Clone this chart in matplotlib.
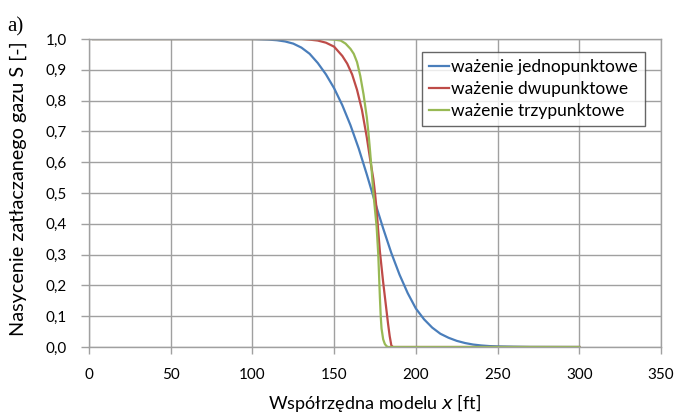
import matplotlib
matplotlib.use("Agg")
import matplotlib.pyplot as plt
from matplotlib.ticker import FuncFormatter, MultipleLocator

# ---- data ----
x_jedno = [2.5, 100, 105, 110, 115, 120, 125, 130, 135, 140, 145, 150, 155, 160, 165, 170,
           175, 180, 185, 190, 195, 200, 205, 210, 215, 220, 225, 230, 235, 240, 245, 250,
           260, 270, 300]
s_jedno = [1.0, 1.0, 0.999, 0.998, 0.996, 0.992, 0.985, 0.972, 0.952, 0.922, 0.885, 0.84,
           0.785, 0.72, 0.645, 0.56, 0.47, 0.385, 0.305, 0.235, 0.175, 0.125, 0.09, 0.063,
           0.043, 0.03, 0.02, 0.013, 0.008, 0.005, 0.003, 0.002, 0.001, 0.0003, 0.0]

x_dwu = [2.5, 130, 135, 140, 145, 150, 155, 158, 161, 164, 167, 170, 172, 174, 175, 176,
         177, 178, 179, 180, 181, 182, 183, 184, 185, 186, 300]
s_dwu = [1.0, 1.0, 0.998, 0.995, 0.988, 0.975, 0.945, 0.92, 0.885, 0.835, 0.77, 0.68, 0.61,
         0.545, 0.50, 0.445, 0.375, 0.31, 0.26, 0.21, 0.165, 0.12, 0.075, 0.035, 0.005, 0.0, 0.0]

x_trzy = [2.5, 145, 150, 154, 157, 160, 162, 164, 166, 168, 170, 171, 172, 173, 174, 175,
          176, 177, 177.5, 178, 178.5, 179, 180, 181, 182, 183, 300]
s_trzy = [1.0, 1.0, 0.998, 0.995, 0.985, 0.968, 0.952, 0.925, 0.88, 0.82, 0.745, 0.695,
          0.635, 0.57, 0.50, 0.445, 0.39, 0.30, 0.23, 0.16, 0.10, 0.06, 0.025, 0.01, 0.003,
          0.0, 0.0]

labels = ["ważenie jednopunktowe", "ważenie dwupunktowe", "ważenie trzypunktowe"]
colors = ["#4A7EBB", "#BE4B48", "#98B954"]

# ---- figure ----
W, H = 676, 417
fig = plt.figure(figsize=(W / 100, H / 100), dpi=100)
ax = fig.add_axes([89 / W, 1 - 347 / H, (661 - 89) / W, (347 - 39) / H])

tick_font = "Lato"
grid_c = "#A0A0A0"

for xs, ys, lab, c in zip([x_jedno, x_dwu, x_trzy], [s_jedno, s_dwu, s_trzy], labels, colors):
    ax.plot(xs, ys, color=c, lw=1.6, label=lab, solid_joinstyle="round")

ax.set_xlim(0, 350)
ax.set_ylim(0, 1.0)
ax.xaxis.set_major_locator(MultipleLocator(50))
ax.yaxis.set_major_locator(MultipleLocator(0.1))
ax.yaxis.set_major_formatter(FuncFormatter(lambda v, p: f"{v:.1f}".replace(".", ",")))
ax.xaxis.set_major_formatter(FuncFormatter(lambda v, p: f"{v:.0f}"))

ax.grid(True, color=grid_c, lw=1.0)
ax.set_axisbelow(True)
for s in ax.spines.values():
    s.set_color(grid_c)
    s.set_linewidth(1.0)
ax.tick_params(axis="both", colors=grid_c, width=1.0, direction="out",
               labelcolor="black", labelsize=11)
ax.tick_params(axis="x", length=5, pad=10)
ax.tick_params(axis="y", length=6, pad=10)
for t in ax.get_xticklabels() + ax.get_yticklabels():
    t.set_fontfamily(tick_font)

ax.set_xlabel("Współrzędna modelu $x$ [ft]", fontsize=13, fontfamily=tick_font)
ax.xaxis.set_label_coords(0.5, (347 - 392) / 308)
ax.set_ylabel("Nasycenie zatłaczanego gazu S [-]", fontsize=14.3, fontfamily=tick_font)
ax.yaxis.set_label_coords((27 - 89) / 572, (347 - 189) / 308)

leg = ax.legend(loc="upper left", bbox_to_anchor=((421.7 - 89) / 572, (347 - 51.7) / 308),
                borderaxespad=0, fancybox=False, frameon=True, handlelength=1.2,
                handletextpad=0.1, labelspacing=0.35, borderpad=0.4,
                prop={"family": tick_font, "size": 12.5})
leg.get_frame().set_edgecolor("#404040")
leg.get_frame().set_linewidth(1.0)

fig.text(7 / W, 1 - 31 / H, "a)", fontsize=15, fontfamily="Liberation Serif", ha="left",
         va="baseline")

fig.savefig("out.png", dpi=100)
